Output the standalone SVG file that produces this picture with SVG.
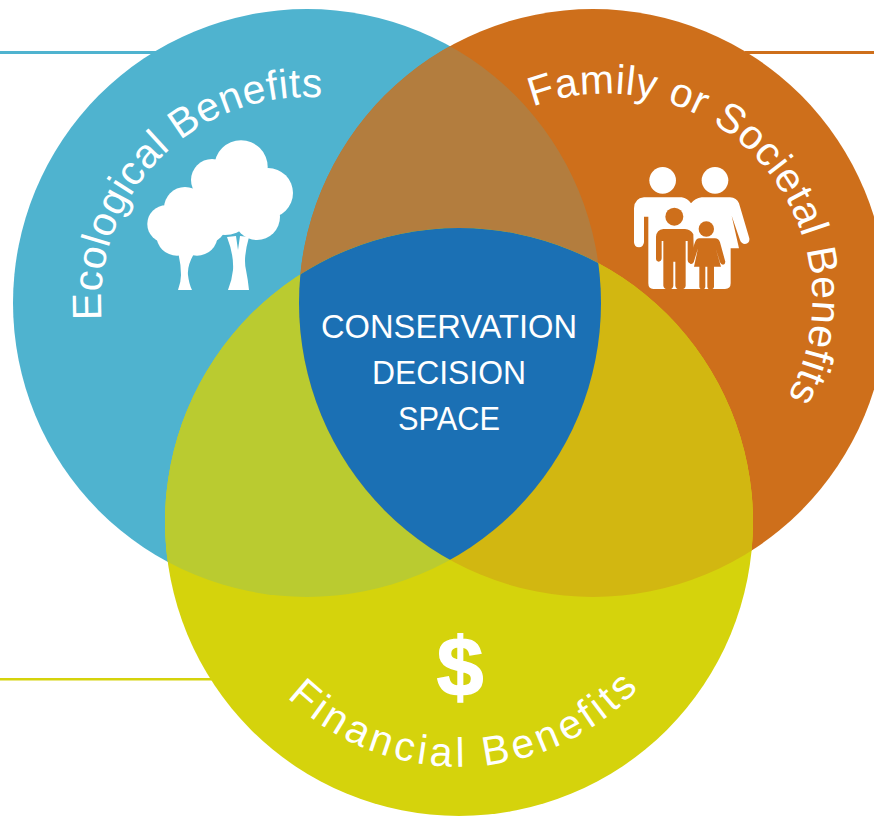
<svg xmlns="http://www.w3.org/2000/svg" width="874" height="816" viewBox="0 0 874 816">
<style>
.lbl{font-family:"Liberation Sans",Arial,sans-serif;fill:#fff;font-size:41px}
.ctr{font-family:"Liberation Sans",Arial,sans-serif;fill:#fff;font-size:32.8px;text-anchor:middle}
.w{fill:#fff}.o{fill:#CE6F1B}
</style>
<defs>
<clipPath id="cB"><circle cx="307" cy="303" r="294"/></clipPath>
<clipPath id="cO"><circle cx="593" cy="303" r="294"/></clipPath>
<path id="pE" d="M101.7 320A206 206 0 1 1 513 303"/>
<path id="pF" d="M533 107A206 206 0 0 1 761.5 435"/>
<path id="pB" d="M287 697A246 246 0 0 0 660 662"/>
</defs>
<g id="connectors">
<rect x="0" y="51" width="160" height="3" fill="#4FB3CF"/>
<rect x="745" y="51" width="129" height="3" fill="#CE6F1B"/>
<rect x="0" y="678" width="215" height="2.5" fill="#D5D30C"/>
</g>
<g id="venn">
<circle id="ecological" cx="307" cy="303" r="294" fill="#4FB3CF"/>
<circle id="family" cx="593" cy="303" r="294" fill="#CE6F1B"/>
<circle id="financial" cx="459" cy="522" r="294" fill="#D5D30C"/>
<g clip-path="url(#cB)"><circle cx="593" cy="303" r="294" fill="#B37D3E"/></g>
<g clip-path="url(#cB)"><circle cx="459" cy="522" r="294" fill="#BACB30"/></g>
<g clip-path="url(#cO)"><circle cx="459" cy="522" r="294" fill="#D2B711"/></g>
<g clip-path="url(#cO)"><g clip-path="url(#cB)"><circle cx="459" cy="522" r="294" fill="#1B70B4"/></g></g>
</g>
<g id="tree-icon">
<circle class="w" cx="241" cy="167" r="26.7"/><circle class="w" cx="212" cy="180" r="21"/><circle class="w" cx="268" cy="193" r="25"/><circle class="w" cx="257" cy="217" r="23"/><circle class="w" cx="225" cy="205" r="30"/>
<circle class="w" cx="185" cy="208" r="21"/><circle class="w" cx="166" cy="224" r="18.7"/><circle class="w" cx="177" cy="235" r="20.7"/><circle class="w" cx="197" cy="235" r="20.7"/><circle class="w" cx="205" cy="222" r="22"/>
<path class="w" d="M227 237L236 236L238 250L240 236L249 237Q243 258 246 270Q248 280 249 290H228Q232 280 233 270Q234 255 227 237Z"/>
<path class="w" d="M178 252L195 252Q187 265 188 275Q189 284 192 290H178Q181 282 181 275Q181 264 178 252Z"/>
</g>
<g id="family-icon" transform="translate(620 155) scale(.3333)">
<circle class="w" cx="128" cy="76" r="40"/><circle class="w" cx="285" cy="76" r="40"/>
<path class="w" d="M72 127H185Q203 130 213 145Q225 130 245 127H330Q350 128 357 145L388 250Q390 265 375 267Q364 266 360 255L335 182L357 280H332V385Q332 402 315 402H100Q85 402 85 385V185H72V262Q70 277 57 277Q43 277 42 262V160Q43 130 72 127Z"/>
<circle class="o" cx="163" cy="185" r="27"/><circle class="o" cx="259" cy="222" r="23"/>
<path class="o" d="M130 222H195Q212 223 220 238L222 315Q220 325 212 325Q204 325 203 315V258H197V392Q197 403 180 403Q167 403 166 392V320H160V392Q159 403 146 403Q131 403 130 392V258H125V310Q124 320 116 320Q108 320 108 310V245Q110 224 130 222Z"/>
<path class="o" d="M238 250H285Q296 250 300 262L316 320Q316 328 309 329Q303 329 300 322L287 280L303 335H282V395Q281 403 271 403Q263 403 262 395V335H256V395Q255 403 247 403Q239 403 238 395V335H222L234 280L221 322Q218 328 212 327Q204 322 206 315L225 262Q229 250 238 250Z"/>
</g>
<g id="labels">
<text class="lbl" letter-spacing=".5"><textPath href="#pE">Ecological Benefits</textPath></text>
<text class="lbl" letter-spacing=".55"><textPath href="#pF">Family or Societal Benefits</textPath></text>
<text class="lbl" letter-spacing="4"><textPath href="#pB">Financial Benefits</textPath></text>
<text class="ctr" x="449" y="338" textLength="256" lengthAdjust="spacingAndGlyphs">CONSERVATION</text>
<text class="ctr" x="449" y="384" textLength="154" lengthAdjust="spacingAndGlyphs">DECISION</text>
<text class="ctr" x="449" y="430" textLength="102" lengthAdjust="spacingAndGlyphs">SPACE</text>
<text x="460" y="696" font-family="Liberation Sans,Arial,sans-serif" font-weight="700" font-size="84" fill="#fff" text-anchor="middle" stroke="#fff" stroke-width="1.5">$</text>
</g>
</svg>
